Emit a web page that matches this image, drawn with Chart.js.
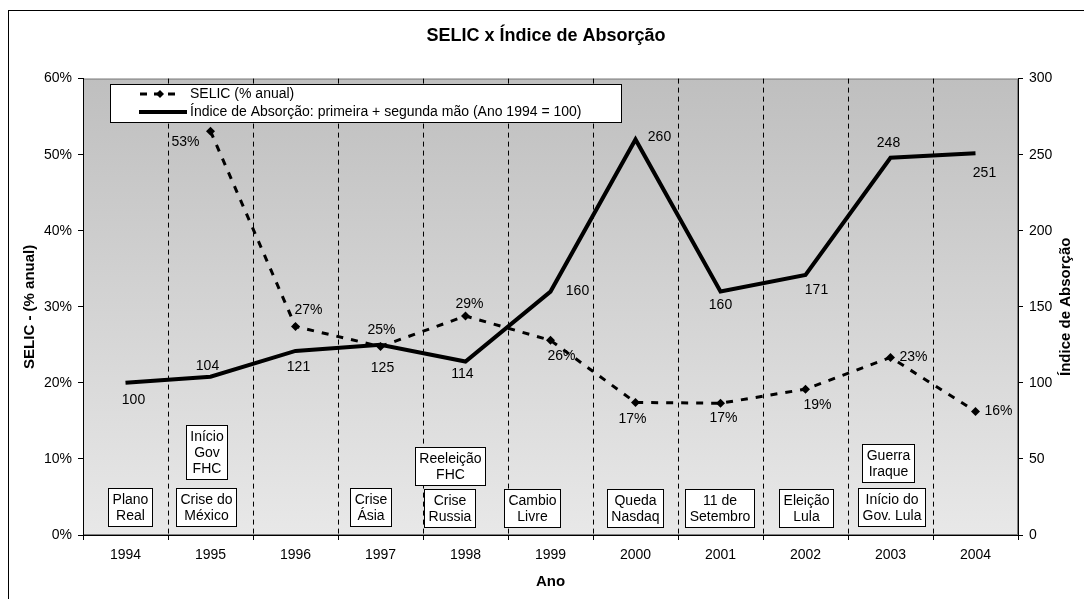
<!DOCTYPE html>
<html lang="pt-BR">
<head>
<meta charset="utf-8">
<title>SELIC x Índice de Absorção</title>
<script src="https://cdn.jsdelivr.net/npm/chart.js@4.4.1/dist/chart.umd.min.js"></script>
<style>
  html, body { margin: 0; padding: 0; background: #fff; }
  #wrap { width: 1084px; height: 599px; }
</style>
</head>
<body>
<div id="wrap"><canvas id="grafico" width="1084" height="599"></canvas></div>
<script>
// Dados
const anos = ["1994", "1995", "1996", "1997", "1998", "1999", "2000", "2001", "2002", "2003", "2004"]
const selic = [null, 53.09, 27.41, 24.78, 28.79, 25.59, 17.43, 17.32, 19.17, 23.35, 16.24]
const indiceAbsorcao = [100, 104, 121, 125, 114, 160, 260, 160, 171, 248, 251]
const ticksSelic = [0, 10, 20, 30, 40, 50, 60]
const ticksIndice = [0, 50, 100, 150, 200, 250, 300]

// Eventos (caixas de texto)
const eventos = [
  { ano: "1994", linhas: ["Plano", "Real"] },
  { ano: "1995", linhas: ["Crise do", "México"] },
  { ano: "1995", linhas: ["Início", "Gov", "FHC"] },
  { ano: "1997", linhas: ["Crise", "Ásia"] },
  { ano: "1998", linhas: ["Reeleição", "FHC"] },
  { ano: "1998", linhas: ["Crise", "Russia"] },
  { ano: "1999", linhas: ["Cambio", "Livre"] },
  { ano: "2000", linhas: ["Queda", "Nasdaq"] },
  { ano: "2001", linhas: ["11 de", "Setembro"] },
  { ano: "2002", linhas: ["Eleição", "Lula"] },
  { ano: "2003", linhas: ["Guerra", "Iraque"] },
  { ano: "2003", linhas: ["Início do", "Gov. Lula"] },
]
// deslocamento em px e base da caixa (em % do eixo SELIC)
const eventosPos = [
  [4, 1.2], [-4, 1.2], [-3.5, 7.4], [-10, 1.2], [-15.5, 6.6], [-16, 1.0],
  [-18, 1.0], [0, 1.0], [-1.5, 1.0], [0.5, 1.0], [-2.5, 7.0], [0.5, 1.2],
]

// posição dos rótulos de dados (dx, dy em px)
const posRotSelic = [null, [-25, 11], [13, -16], [1, -16], [4, -12], [11, 16], [-3, 17], [3, 15], [12, 16], [23, 0], [23, 0]]
const posRotIndice = [[8, 17], [-3, -11], [3, 16], [2, 23], [-3, 13], [27, 0], [24, -2], [0, 14], [11, 15], [-2, -15], [9, 20]]

const FONTE = "'Liberation Sans', Arial, sans-serif"
Chart.defaults.font.family = FONTE
Chart.defaults.color = "#000"

// Fundo, moldura e área de plotagem em degradê
const fundoPlugin = {
  id: "fundo",
  beforeDraw(chart) {
    const { ctx, chartArea: a } = chart
    ctx.save()
    ctx.fillStyle = "#fff"
    ctx.fillRect(0, 0, chart.width, chart.height)
    ctx.strokeStyle = "#000"
    ctx.lineWidth = 1
    ctx.strokeRect(8.5, 10.5, chart.width + 10, chart.height + 10)
    const grad = ctx.createLinearGradient(0, a.top, 0, a.bottom)
    grad.addColorStop(0, "#bfbfbf")
    grad.addColorStop(1, "#e8e8e8")
    ctx.fillStyle = grad
    ctx.fillRect(a.left, a.top, a.right - a.left, a.bottom - a.top)
    ctx.strokeStyle = "#808080"
    ctx.strokeRect(a.left + 0.5, a.top + 0.5, a.right - a.left - 1, a.bottom - a.top - 1)
    ctx.restore()
  },
}

// Rótulos de dados e caixas de eventos
const rotulosPlugin = {
  id: "rotulos",
  afterDatasetsDraw(chart) {
    const { ctx } = chart
    ctx.save()
    ctx.font = "14px " + FONTE
    ctx.fillStyle = "#000"
    ctx.textAlign = "center"
    ctx.textBaseline = "middle"

    const metaSelic = chart.getDatasetMeta(0)
    metaSelic.data.forEach((pt, i) => {
      if (selic[i] === null) return
      const [dx, dy] = posRotSelic[i]
      ctx.fillText(Math.round(selic[i]) + "%", pt.x + dx, pt.y + dy)
    })
    const metaIndice = chart.getDatasetMeta(1)
    metaIndice.data.forEach((pt, i) => {
      const [dx, dy] = posRotIndice[i]
      ctx.fillText(String(indiceAbsorcao[i]), pt.x + dx, pt.y + dy)
    })

    // caixas de eventos
    const xs = chart.scales.x
    const ys = chart.scales.y
    eventos.forEach((ev, k) => {
      const [dx, base] = eventosPos[k]
      const cx = xs.getPixelForValue(anos.indexOf(ev.ano)) + dx
      const bottom = ys.getPixelForValue(base)
      const alturaLinha = 16
      const h = ev.linhas.length * alturaLinha + 6
      const w = Math.max(...ev.linhas.map((l) => ctx.measureText(l).width)) + 8
      const left = Math.round(cx - w / 2) + 0.5
      const top = Math.round(bottom - h) + 0.5
      ctx.fillStyle = "#fff"
      ctx.fillRect(left, top, Math.round(w), h)
      ctx.strokeStyle = "#000"
      ctx.lineWidth = 1
      ctx.strokeRect(left, top, Math.round(w), h)
      ctx.fillStyle = "#000"
      ev.linhas.forEach((l, j) => {
        ctx.fillText(l, left + Math.round(w) / 2, top + 3 + alturaLinha * (j + 0.5) + 1)
      })
    })
    ctx.restore()
  },
}

// Legenda em caixa e título do eixo direito
const legendaPlugin = {
  id: "legenda",
  afterDraw(chart) {
    const { ctx, chartArea: a } = chart
    ctx.save()
    ctx.fillStyle = "#fff"
    ctx.fillRect(110.5, 84.5, 511, 38)
    ctx.strokeStyle = "#000"
    ctx.lineWidth = 1
    ctx.strokeRect(110.5, 84.5, 511, 38)

    const ds = chart.data.datasets
    // SELIC
    ctx.lineWidth = 3
    ctx.setLineDash([7, 7])
    ctx.beginPath()
    ctx.moveTo(140, 94)
    ctx.lineTo(180, 94)
    ctx.stroke()
    ctx.setLineDash([])
    ctx.fillStyle = "#000"
    ctx.beginPath()
    ctx.moveTo(160, 90)
    ctx.lineTo(164, 94)
    ctx.lineTo(160, 98)
    ctx.lineTo(156, 94)
    ctx.closePath()
    ctx.fill()
    // Índice
    ctx.lineWidth = 4
    ctx.beginPath()
    ctx.moveTo(139, 112)
    ctx.lineTo(187, 112)
    ctx.stroke()

    ctx.font = "14px " + FONTE
    ctx.textAlign = "left"
    ctx.textBaseline = "middle"
    ctx.fillText(ds[0].label, 190, 94)
    ctx.fillText(ds[1].label, 190, 112)

    // título do eixo direito (lido de baixo para cima)
    ctx.translate(1066, (a.top + a.bottom) / 2)
    ctx.rotate(-Math.PI / 2)
    ctx.font = "bold 15px " + FONTE
    ctx.textAlign = "center"
    ctx.fillText("Índice de Absorção", 0, 0)
    ctx.restore()
  },
}

const ctx = document.getElementById("grafico").getContext("2d")
new Chart(ctx, {
  type: "line",
  data: {
    labels: anos,
    datasets: [
      {
        label: "SELIC (% anual)",
        data: selic,
        yAxisID: "y",
        borderColor: "#000",
        backgroundColor: "#000",
        borderWidth: 3,
        borderDash: [7, 8],
        pointStyle: "rectRot",
        pointRadius: 4.5,
        pointBorderWidth: 0,
        tension: 0,
        order: 1,
      },
      {
        label: "Índice de Absorção: primeira + segunda mão (Ano 1994 = 100)",
        data: indiceAbsorcao,
        yAxisID: "y1",
        borderColor: "#000",
        backgroundColor: "#000",
        borderWidth: 4,
        pointRadius: 0,
        tension: 0,
        order: 2,
      },
    ],
  },
  options: {
    responsive: false,
    animation: false,
    devicePixelRatio: 1,
    layout: { padding: { top: 10, left: 8, right: 0, bottom: 0 } },
    plugins: {
      legend: { display: false },
      tooltip: { enabled: false },
      title: {
        display: true,
        text: "SELIC x Índice de Absorção",
        color: "#000",
        font: { size: 18, weight: "bold" },
        padding: { top: 15, bottom: 32 },
      },
    },
    scales: {
      x: {
        offset: true,
        grid: {
          offset: true,
          color: "#000",
          lineWidth: 1,
          tickLength: 5,
          tickColor: "#000",
          tickBorderDash: [],
        },
        border: { color: "#000", width: 1, dash: [5, 4] },
        ticks: { font: { size: 14 }, color: "#000", padding: 7, maxRotation: 0 },
        title: {
          display: true,
          text: "Ano",
          color: "#000",
          font: { size: 15, weight: "bold" },
          padding: { top: 0, bottom: 8 },
        },
        afterFit: (s) => { s.height = 64 },
      },
      y: {
        position: "left",
        min: 0,
        max: 60,
        afterBuildTicks: (s) => { s.ticks = ticksSelic.map((v) => ({ value: v })) },
        grid: { drawOnChartArea: false, tickLength: 5, tickColor: "#000" },
        border: { color: "#000", width: 1 },
        ticks: { font: { size: 14 }, color: "#000", padding: 6, callback: (v) => v + "%" },
        title: {
          display: true,
          text: "SELIC - (% anual)",
          color: "#000",
          font: { size: 15, weight: "bold" },
          padding: { top: 13, bottom: 0 },
        },
        afterFit: (s) => { s.width = 75 },
      },
      y1: {
        position: "right",
        min: 0,
        max: 300,
        afterBuildTicks: (s) => { s.ticks = ticksIndice.map((v) => ({ value: v })) },
        grid: { drawOnChartArea: false, tickLength: 5, tickColor: "#000" },
        border: { color: "#000", width: 1 },
        ticks: { font: { size: 14 }, color: "#000", padding: 6 },
        afterFit: (s) => { s.width = 66 },
      },
    },
  },
  plugins: [fundoPlugin, rotulosPlugin, legendaPlugin],
})
</script>
</body>
</html>
